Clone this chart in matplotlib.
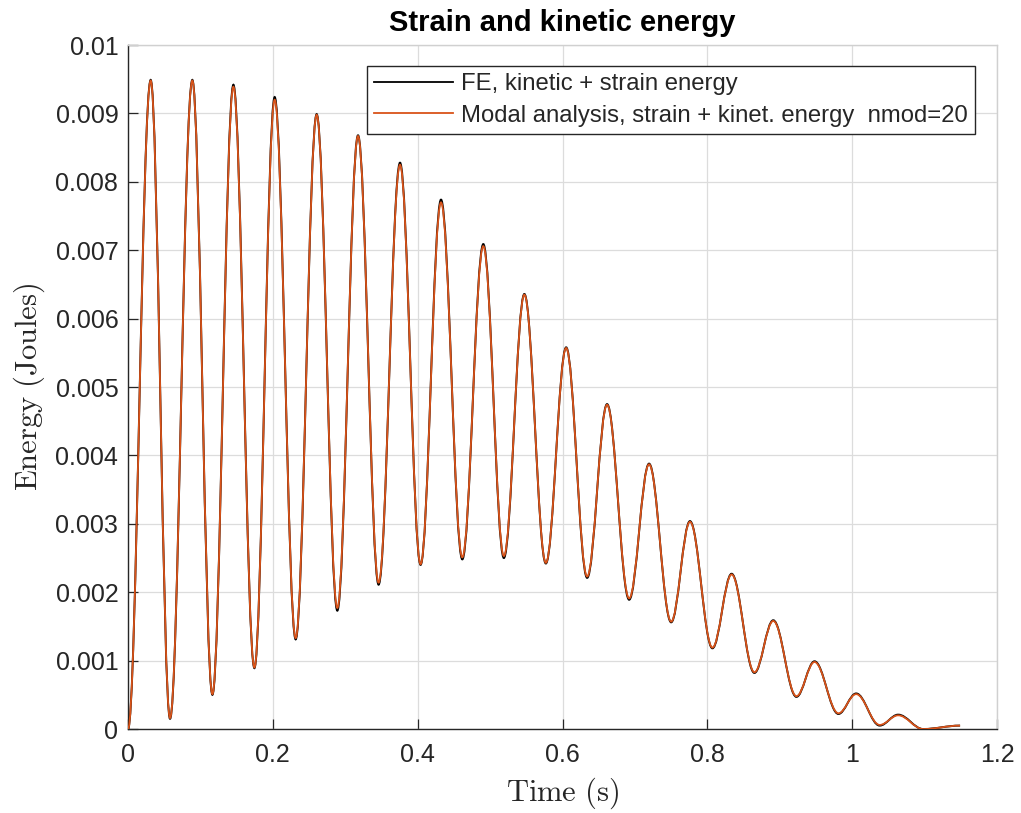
import matplotlib
matplotlib.use("Agg")
import matplotlib.pyplot as plt
from matplotlib.path import Path
from matplotlib.patches import PathPatch
from matplotlib.lines import Line2D

plt.rcParams['font.family'] = ['Liberation Sans', 'DejaVu Sans']
plt.rcParams['mathtext.fontset'] = 'cm'

# extrema of the energy curves (trough, peak, trough, ... , tail)
t_ext = [0.0, 0.0313, 0.058, 0.0888, 0.1165, 0.1455, 0.1745, 0.2025, 0.2315, 0.2605,
         0.289, 0.3176, 0.346, 0.3756, 0.404, 0.4322, 0.4616, 0.4906, 0.519, 0.5473,
         0.577, 0.605, 0.634, 0.6615, 0.692, 0.7195, 0.750, 0.776, 0.807, 0.8335,
         0.865, 0.891, 0.923, 0.948, 0.981, 1.0055, 1.038, 1.0635, 1.098, 1.149]
e_modal = [0.0, 0.00948, 0.00016, 0.00948, 0.00051, 0.00939, 0.00090, 0.00920, 0.00133, 0.00898,
           0.00177, 0.00867, 0.00214, 0.00825, 0.00241, 0.00770, 0.00251, 0.00706, 0.00253, 0.00635,
           0.00243, 0.00557, 0.00223, 0.00474, 0.00191, 0.00387, 0.00157, 0.00303, 0.00119, 0.00226,
           0.00083, 0.00158, 0.00048, 0.00098, 0.00023, 0.00051, 0.00006, 0.00020, 0.0, 0.00005]
e_fe = [0.0, 0.00949, 0.00015, 0.00949, 0.00050, 0.00942, 0.00089, 0.00924, 0.00131, 0.00899,
        0.00173, 0.00868, 0.00211, 0.00828, 0.00240, 0.00774, 0.00248, 0.00709, 0.00250, 0.00636,
        0.00242, 0.00558, 0.00221, 0.00475, 0.00189, 0.00388, 0.00156, 0.00304, 0.00118, 0.00227,
        0.00082, 0.00159, 0.00047, 0.00099, 0.00022, 0.00052, 0.00005, 0.00021, 0.0, 0.00005]

x_ticks = [0, 0.2, 0.4, 0.6, 0.8, 1.0, 1.2]
x_labels = ['0', '0.2', '0.4', '0.6', '0.8', '1', '1.2']
y_ticks = [0, 0.001, 0.002, 0.003, 0.004, 0.005, 0.006, 0.007, 0.008, 0.009, 0.01]
y_labels = ['0', '0.001', '0.002', '0.003', '0.004', '0.005', '0.006', '0.007', '0.008', '0.009', '0.01']

label_fe = 'FE, kinetic + strain energy'
label_modal = 'Modal analysis, strain + kinet. energy  nmod=20'

ORANGE = '#D95319'
DARK = '#262626'


def smooth_path(t, e):
    # cubic bezier between extrema, flat tangents at each extremum
    verts = [(t[0], e[0])]
    codes = [Path.MOVETO]
    for i in range(1, len(t)):
        a = 0.364 * (t[i] - t[i - 1])
        verts += [(t[i - 1] + a, e[i - 1]), (t[i] - a, e[i]), (t[i], e[i])]
        codes += [Path.CURVE4] * 3
    return Path(verts, codes)


fig = plt.figure(figsize=(10.21, 8.13), dpi=100)
ax = fig.add_axes([0.1254, 0.1033, 0.8511, 0.8413])

ax.add_patch(PathPatch(smooth_path(t_ext, e_fe), fill=False, edgecolor='black', lw=1.4, zorder=3))
ax.add_patch(PathPatch(smooth_path(t_ext, e_modal), fill=False, edgecolor=ORANGE, lw=1.3, zorder=4))

ax.set_xlim(0, 1.2)
ax.set_ylim(0, 0.01)
ax.set_xticks(x_ticks)
ax.set_xticklabels(x_labels)
ax.set_yticks(y_ticks)
ax.set_yticklabels(y_labels)

ax.grid(True, color='#dcdcdc', lw=0.9)
ax.set_axisbelow(True)
ax.tick_params(direction='in', length=7, width=0.9, color=DARK, labelcolor=DARK,
               labelsize=18, pad=7)
ax.tick_params(axis='x', pad=10)
for s in ['left', 'bottom']:
    ax.spines[s].set_color(DARK)
    ax.spines[s].set_linewidth(1.0)
for s in ['top', 'right']:
    ax.spines[s].set_color('#d0d0d0')
    ax.spines[s].set_linewidth(1.0)

ax.set_title('Strain and kinetic energy', fontsize=21, fontweight='bold', pad=10)
ax.set_xlabel(r'$\mathrm{Time\ (s)}$', fontsize=22, color=DARK, labelpad=6)
ax.set_ylabel(r'$\mathrm{Energy\ (Joules)}$', fontsize=22, color=DARK, labelpad=6)

handles = [Line2D([], [], color='black', lw=1.3), Line2D([], [], color=ORANGE, lw=1.3)]
leg = ax.legend(handles, [label_fe, label_modal], loc='upper right',
                bbox_to_anchor=(0.9747, 0.9693), borderaxespad=0, fontsize=17.2,
                fancybox=False, framealpha=1, edgecolor=DARK, handlelength=3.3,
                handletextpad=0.35, borderpad=0.3, labelspacing=0.4)
leg.get_frame().set_linewidth(1.0)
for txt in leg.get_texts():
    txt.set_color(DARK)

fig.savefig('out.png', dpi=100)
